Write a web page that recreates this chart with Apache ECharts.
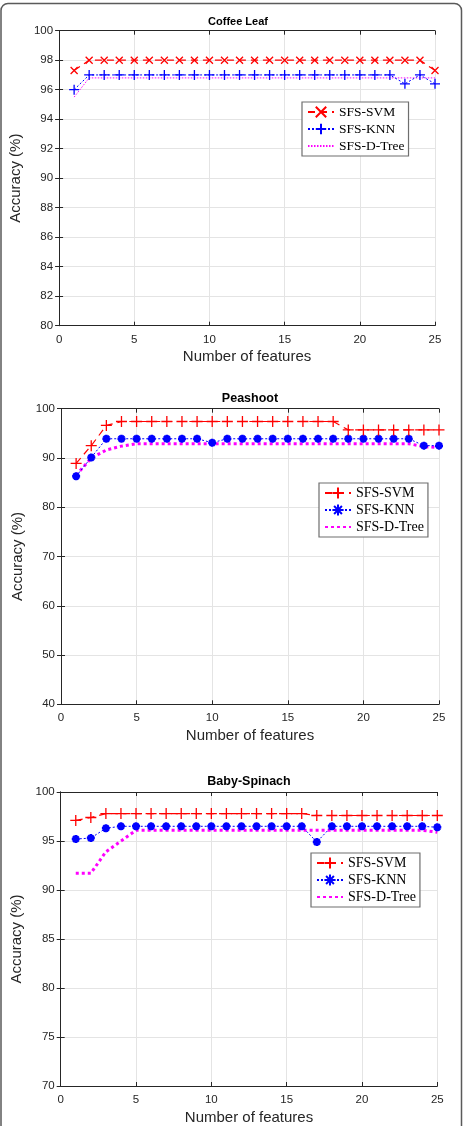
<!DOCTYPE html>
<html>
<head>
<meta charset="utf-8">
<script src="https://cdn.jsdelivr.net/npm/echarts@6/dist/echarts.min.js"></script>
<style>
html, body { margin: 0; padding: 0; background: #fff; }
#main { width: 465px; height: 1126px; }
</style>
</head>
<body>
<div id="main"></div>
<script>
//=================================================================================
// data
var features = [1, 2, 3, 4, 5, 6, 7, 8, 9, 10, 11, 12, 13, 14, 15, 16, 17, 18, 19, 20, 21, 22, 23, 24, 25];
var panelTitles = ['Coffee Leaf', 'Peashoot', 'Baby-Spinach'];
var seriesNames = ['SFS-SVM', 'SFS-KNN', 'SFS-D-Tree'];

// Coffee Leaf
var coffeeSVM = [97.3, 98, 98, 98, 98, 98, 98, 98, 98, 98, 98, 98, 98, 98, 98, 98, 98, 98, 98, 98, 98, 98, 98, 98, 97.3];
var coffeeKNN = [96.0, 97, 97, 97, 97, 97, 97, 97, 97, 97, 97, 97, 97, 97, 97, 97, 97, 97, 97, 97, 97, 97, 96.4, 97, 96.4];
var coffeeTree = [95.5, 96.8, 96.8, 96.8, 96.8, 96.8, 96.8, 96.8, 96.8, 96.8, 96.8, 96.8, 96.8, 96.8, 96.8, 96.8, 96.8, 96.8, 96.8, 96.8, 96.8, 96.8, 96.8, 96.8, 96.8];

// Peashoot
var peaSVM = [88.9, 92.5, 96.6, 97.4, 97.4, 97.4, 97.4, 97.4, 97.4, 97.4, 97.4, 97.4, 97.4, 97.4, 97.4, 97.4, 97.4, 97.4, 95.7, 95.7, 95.7, 95.7, 95.7, 95.7, 95.7];
var peaKNN = [86.3, 90.1, 93.9, 93.9, 93.9, 93.9, 93.9, 93.9, 93.9, 93.1, 93.9, 93.9, 93.9, 93.9, 93.9, 93.9, 93.9, 93.9, 93.9, 93.9, 93.9, 93.9, 93.9, 92.5, 92.5];
var peaTree = [86.5, 90.0, 91.6, 92.4, 92.9, 92.9, 92.9, 92.9, 92.9, 92.9, 92.9, 92.9, 92.9, 92.9, 92.9, 92.9, 92.9, 92.9, 92.9, 92.9, 92.9, 92.9, 92.9, 92.3, 92.1];

// Baby-Spinach
var spinSVM = [97.1, 97.4, 97.8, 97.8, 97.8, 97.8, 97.8, 97.8, 97.8, 97.8, 97.8, 97.8, 97.8, 97.8, 97.8, 97.8, 97.6, 97.6, 97.6, 97.6, 97.6, 97.6, 97.6, 97.6, 97.6];
var spinKNN = [95.2, 95.3, 96.3, 96.5, 96.5, 96.5, 96.5, 96.5, 96.5, 96.5, 96.5, 96.5, 96.5, 96.5, 96.5, 96.5, 94.9, 96.5, 96.5, 96.5, 96.5, 96.5, 96.5, 96.5, 96.4];
var spinTree = [91.7, 91.7, 93.9, 95.0, 96.1, 96.1, 96.1, 96.1, 96.1, 96.1, 96.1, 96.1, 96.1, 96.1, 96.1, 96.1, 96.1, 96.1, 96.1, 96.1, 96.1, 96.1, 96.1, 96.1, 95.9];

var yMin = [80, 40, 70];
var yMax = [100, 100, 100];
var yStep = [2, 10, 5];
var xTicks = [0, 5, 10, 15, 20, 25];
//=================================================================================

var crossPath = 'path://M0,0L10,10M10,0L0,10';
var plusPath = 'path://M5,0L5,10M0,5L10,5';
var starPath = 'path://M5,0L5,10M0,5L10,5M1.5,1.5L8.5,8.5M8.5,1.5L1.5,8.5';

var axisColor = '#262626';
var gridColor = '#e4e4e4';

var grids = [
	{ left: 58, top: 30.7, width: 377, height: 295 },
	{ left: 61, top: 408.7, width: 378, height: 295.6 },
	{ left: 60.7, top: 792, width: 376.6, height: 294.7 }
];

function pairs(ys) {
	var out = [];
	for (var i = 0; i < features.length; i++) {
		out.push([features[i], ys[i]]);
	}
	return out;
}

var xAxes = [], yAxes = [];
for (var p = 0; p < 3; p++) {
	xAxes.push({
		gridIndex: p, type: 'value', position: 'bottom',
		min: xTicks[0], max: xTicks[xTicks.length - 1], interval: 5,
		axisLine: { show: true, lineStyle: { color: axisColor, width: 1 } },
		axisTick: { show: true, inside: true, length: 4, lineStyle: { color: axisColor } },
		axisLabel: { margin: 8, fontSize: 11.5, color: axisColor, fontFamily: 'Liberation Sans' },
		splitLine: { show: true, lineStyle: { color: gridColor, width: 1 } },
		name: 'Number of features', nameLocation: 'middle', nameGap: 24,
		nameTextStyle: { fontSize: 15, color: axisColor, fontFamily: 'Liberation Sans' }
	});
	xAxes.push({
		gridIndex: p, type: 'value', position: 'top',
		min: xTicks[0], max: xTicks[xTicks.length - 1], interval: 5,
		axisLine: { show: true, lineStyle: { color: axisColor, width: 1 } },
		axisTick: { show: true, inside: true, length: 4, lineStyle: { color: axisColor } },
		axisLabel: { show: false },
		splitLine: { show: false }
	});
	yAxes.push({
		gridIndex: p, type: 'value', position: 'left',
		min: yMin[p], max: yMax[p], interval: yStep[p],
		axisLine: { show: true, lineStyle: { color: axisColor, width: 1 } },
		axisTick: { show: true, inside: true, length: 4, lineStyle: { color: axisColor } },
		axisLabel: { margin: 6, fontSize: 11.5, color: axisColor, fontFamily: 'Liberation Sans' },
		splitLine: { show: true, lineStyle: { color: gridColor, width: 1 } },
		name: 'Accuracy (%)', nameLocation: 'middle', nameGap: 27,
		nameTextStyle: { fontSize: 15, color: axisColor, fontFamily: 'Liberation Sans' }
	});
	yAxes.push({
		gridIndex: p, type: 'value', position: 'right',
		min: yMin[p], max: yMax[p], interval: yStep[p],
		axisLine: { show: true, lineStyle: { color: axisColor, width: 1 } },
		axisTick: { show: true, inside: true, length: 4, lineStyle: { color: axisColor } },
		axisLabel: { show: false },
		splitLine: { show: false }
	});
}

//=================================================================================
// series; name suffix "#n" keeps each panel's legend separate, stripped in formatter
function svmSeries(p, ys, symbol, size) {
	return {
		name: seriesNames[0] + '#' + p, type: 'line',
		xAxisIndex: p * 2, yAxisIndex: p * 2, data: pairs(ys),
		symbol: symbol, symbolSize: size,
		itemStyle: { color: '#ff0000', borderColor: '#ff0000', borderWidth: 1.3 },
		lineStyle: { color: '#ff0000', width: 1.2, type: [7, 5] },
		z: 4
	};
}
function knnSeries(p, ys, symbol, size, bw) {
	return {
		name: seriesNames[1] + '#' + p, type: 'line',
		xAxisIndex: p * 2, yAxisIndex: p * 2, data: pairs(ys),
		symbol: symbol, symbolSize: size,
		itemStyle: { color: '#0000ff', borderColor: '#0000ff', borderWidth: bw },
		lineStyle: { color: '#0000ff', width: 1, type: [2, 2] },
		z: 3
	};
}
function treeSeries(p, ys, width) {
	// no marker: transparent item colour so the legend shows only the line
	return {
		name: seriesNames[2] + '#' + p, type: 'line',
		xAxisIndex: p * 2, yAxisIndex: p * 2, data: pairs(ys),
		symbol: 'circle', showSymbol: false,
		itemStyle: { color: 'rgba(0,0,0,0)', borderWidth: 0 },
		lineStyle: { color: '#ff00ff', width: width, type: width > 2 ? [3, 3] : [1.5, 1.5] },
		z: 2
	};
}

var series = [
	svmSeries(0, coffeeSVM, crossPath, 7),
	knnSeries(0, coffeeKNN, plusPath, 10, 1.3),
	treeSeries(0, coffeeTree, 1),
	svmSeries(1, peaSVM, plusPath, 11),
	knnSeries(1, peaKNN, starPath, 8, 2.5),
	treeSeries(1, peaTree, 3),
	svmSeries(2, spinSVM, plusPath, 11),
	knnSeries(2, spinKNN, starPath, 8, 2.5),
	treeSeries(2, spinTree, 3)
];

//=================================================================================
var legendPos = [
	{ left: 302, top: 102, itemHeight: 13, fontSize: 13.5 },
	{ left: 319, top: 483, itemHeight: 14, fontSize: 14 },
	{ left: 311, top: 853, itemHeight: 14, fontSize: 14 }
];
var legends = [];
for (var k = 0; k < 3; k++) {
	legends.push({
		orient: 'vertical',
		left: legendPos[k].left, top: legendPos[k].top,
		data: [seriesNames[0] + '#' + k, seriesNames[1] + '#' + k, seriesNames[2] + '#' + k],
		formatter: function (name) { return name.split('#')[0]; },
		itemWidth: 26, itemHeight: legendPos[k].itemHeight, itemGap: 3,
		padding: [3, 4, 3, 5],
		backgroundColor: '#ffffff',
		borderColor: '#6e6e6e', borderWidth: 1.2,
		selectedMode: false,
		textStyle: { fontFamily: 'Liberation Serif', fontSize: legendPos[k].fontSize, color: '#000' }
	});
}

var titles = [
	{ text: panelTitles[0], left: 238, top: 16, textAlign: 'center', padding: 0,
	  textStyle: { fontSize: 11, fontWeight: 'bold', color: '#000', fontFamily: 'Liberation Sans' } },
	{ text: panelTitles[1], left: 250, top: 392.5, textAlign: 'center', padding: 0,
	  textStyle: { fontSize: 12.5, fontWeight: 'bold', color: '#000', fontFamily: 'Liberation Sans' } },
	{ text: panelTitles[2], left: 249, top: 775.5, textAlign: 'center', padding: 0,
	  textStyle: { fontSize: 12.5, fontWeight: 'bold', color: '#000', fontFamily: 'Liberation Sans' } }
];

var myChart = echarts.init(document.getElementById('main'), null, { renderer: 'canvas' });
myChart.setOption({
	animation: false,
	backgroundColor: '#ffffff',
	title: titles,
	legend: legends,
	grid: grids,
	xAxis: xAxes,
	yAxis: yAxes,
	series: series,
	graphic: [{
		type: 'rect', silent: true, z: 100,
		shape: { x: 1, y: 3.5, width: 460.5, height: 1135, r: 7 },
		style: { fill: 'none', stroke: '#5a5a5a', lineWidth: 1.5 }
	}]
});
</script>
</body>
</html>
